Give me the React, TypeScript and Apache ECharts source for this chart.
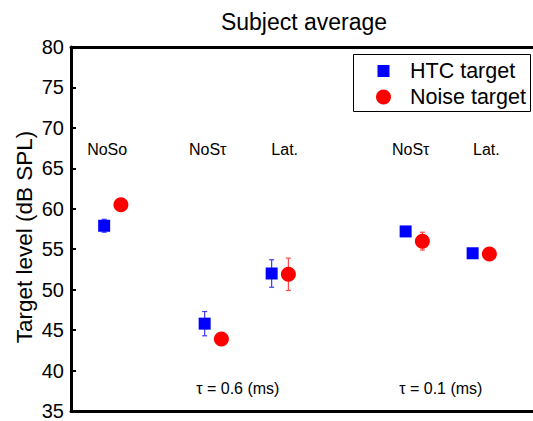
import React, { useEffect, useRef } from "react";
import * as echarts from "echarts";

// ---- data ----
const groupLabels = ["NoSo", "NoSτ", "Lat.", "NoSτ", "Lat."];
const groupPos = [1, 2.5, 3.5, 5.5, 6.5];
const htcMean = [57.9, 45.8, 52.0, 57.2, 54.5];
const htcErr = [0.8, 1.5, 1.7, 0.3, 0.3];
const noiseMean = [60.5, 43.9, 51.9, 56.0, 54.4];
const noiseErr = [0.4, 0.4, 2.0, 1.1, 0.4];
const groupLabelX = [0.92, 2.42, 3.57, 5.45, 6.58];
const groupLabelY = 67.3;
const tauLabels = ["τ = 0.6 (ms)", "τ = 0.1 (ms)"];
const tauLabelX = [2.87, 5.9];
const tauLabelY = 37.8;
const seriesNames = ["HTC target", "Noise target"];
const xMin = 0.38;
const xMax = 7.276;
const yMin = 35;
const yMax = 80;
const yStep = 5;

const FONT = "'Liberation Sans', Arial, Helvetica, sans-serif";
const OFFSET = 0.125;
const BLUE = "#0000ff";
const RED = "#ff0000";

function errorBarSeries(color: string, xs: number[], means: number[], errs: number[]) {
  return {
    type: "custom",
    z: 1,
    silent: true,
    encode: { x: 0, y: [1, 2] },
    data: xs.map((x, i) => [x, means[i] - errs[i], means[i] + errs[i]]),
    renderItem: (params: any, api: any) => {
      const x = api.value(0);
      const top = api.coord([x, api.value(2)]);
      const bot = api.coord([x, api.value(1)]);
      const cap = 2.5;
      const st = { stroke: color, lineWidth: 1.2 };
      return {
        type: "group",
        children: [
          { type: "line", shape: { x1: top[0], y1: top[1], x2: bot[0], y2: bot[1] }, style: st },
          { type: "line", shape: { x1: top[0] - cap, y1: top[1], x2: top[0] + cap, y2: top[1] }, style: st },
          { type: "line", shape: { x1: bot[0] - cap, y1: bot[1], x2: bot[0] + cap, y2: bot[1] }, style: st },
        ],
      };
    },
  };
}

function textSeries(texts: string[], xs: number[], y: number) {
  return {
    type: "custom",
    silent: true,
    z: 5,
    encode: { x: 0, y: 1 },
    data: xs.map((x, i) => [x, y, i]),
    renderItem: (params: any, api: any) => {
      const p = api.coord([api.value(0), api.value(1)]);
      return {
        type: "text",
        x: p[0],
        y: p[1],
        style: {
          text: texts[api.value(2)],
          fontSize: 16,
          fontFamily: FONT,
          fill: "#000",
          align: "center",
          verticalAlign: "middle",
        },
      };
    },
  };
}

export default function App() {
  const ref = useRef<HTMLDivElement>(null);
  useEffect(() => {
    if (!ref.current) return;
    const chart = echarts.init(ref.current, null, { renderer: "svg" });
    const htcX = groupPos.map((p) => p - OFFSET);
    const noiseX = groupPos.map((p) => p + OFFSET);
    const xAxisBase = {
      type: "value",
      min: xMin,
      max: xMax,
      axisLine: { show: true, onZero: false, lineStyle: { color: "#000", width: 3 } },
      axisTick: { show: false },
      axisLabel: { show: false },
      splitLine: { show: false },
    };
    const option: any = {
      animation: false,
      backgroundColor: "#fff",
      textStyle: { fontFamily: FONT },
      graphic: [
        {
          type: "text",
          x: 304,
          y: 22,
          style: {
            text: "Subject average",
            fontSize: 23,
            fontFamily: FONT,
            fill: "#000",
            align: "center",
            verticalAlign: "middle",
          },
        },
        {
          type: "text",
          x: 24,
          y: 237,
          rotation: Math.PI / 2,
          style: {
            text: "Target level (dB SPL)",
            fontSize: 22.5,
            fontFamily: FONT,
            fill: "#000",
            align: "center",
            verticalAlign: "middle",
          },
        },
        {
          type: "rect",
          shape: { x: 353.5, y: 54.5, width: 177, height: 57 },
          style: { fill: "#fff", stroke: "#000", lineWidth: 1 },
          z: 100,
        },
        {
          type: "rect",
          shape: { x: 377.5, y: 65, width: 12, height: 12 },
          style: { fill: BLUE },
          z: 101,
        },
        {
          type: "circle",
          shape: { cx: 383.5, cy: 97, r: 7.5 },
          style: { fill: RED },
          z: 101,
        },
        {
          type: "text",
          x: 410,
          y: 71,
          style: { text: seriesNames[0], fontSize: 21.5, fontFamily: FONT, fill: "#000", verticalAlign: "middle" },
          z: 101,
        },
        {
          type: "text",
          x: 410,
          y: 97,
          style: { text: seriesNames[1], fontSize: 21.5, fontFamily: FONT, fill: "#000", verticalAlign: "middle" },
          z: 101,
        },
      ],
      grid: { left: 71, top: 47, bottom: 8, right: 0 },
      xAxis: [xAxisBase, { ...xAxisBase, position: "top" }],
      yAxis: {
        type: "value",
        min: yMin,
        max: yMax,
        interval: yStep,
        axisLine: { show: true, onZero: false, lineStyle: { color: "#000", width: 3 } },
        axisTick: { show: true, inside: true, length: 5, lineStyle: { color: "#000", width: 2 } },
        axisLabel: { color: "#000", fontSize: 20, margin: 7, fontFamily: FONT },
        splitLine: { show: false },
      },
      series: [
        errorBarSeries("#3a3aff", htcX, htcMean, htcErr),
        errorBarSeries("#ff4a4a", noiseX, noiseMean, noiseErr),
        {
          name: seriesNames[0],
          type: "scatter",
          symbol: "rect",
          symbolSize: 12,
          z: 3,
          itemStyle: { color: BLUE, opacity: 1 },
          data: htcX.map((x, i) => [x, htcMean[i]]),
        },
        {
          name: seriesNames[1],
          type: "scatter",
          symbol: "circle",
          symbolSize: 15,
          z: 3,
          itemStyle: { color: RED, opacity: 1 },
          data: noiseX.map((x, i) => [x, noiseMean[i]]),
        },
        textSeries(groupLabels, groupLabelX, groupLabelY),
        textSeries(tauLabels, tauLabelX, tauLabelY),
      ],
    };
    chart.setOption(option);
    return () => chart.dispose();
  }, []);
  return (
    <div
      ref={ref}
      style={{ position: "fixed", left: 0, top: 0, width: 533, height: 421, overflow: "hidden" }}
    />
  );
}
